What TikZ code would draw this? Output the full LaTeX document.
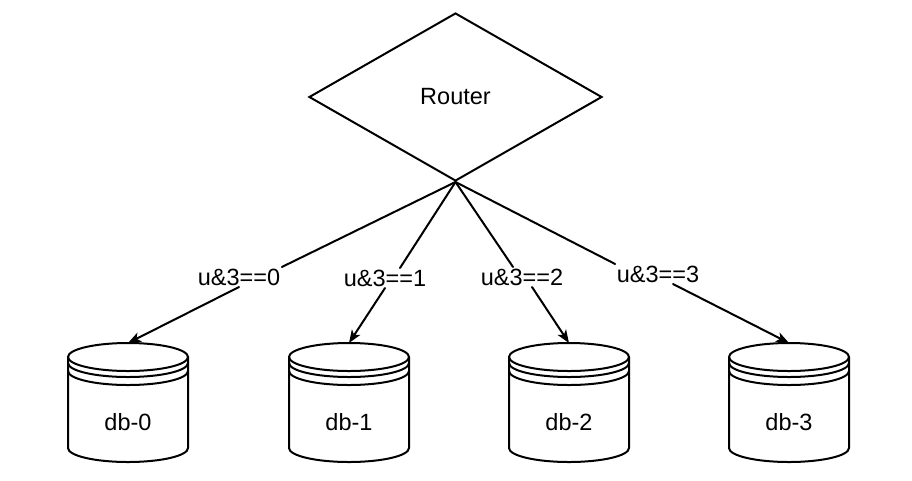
\documentclass[tikz,border=0pt]{standalone}
\usepackage{fontspec}
\setmainfont{Liberation Sans}
\usetikzlibrary{shapes.geometric,arrows.meta}
\tikzset{
  every picture/.style={x=1pt,y=-1pt},
  lw/.style={line width=2pt},
  router/.style={draw,lw,diamond,minimum width=293pt,minimum height=168pt,inner sep=0pt,font=\fontsize{23.5}{28}\selectfont},
  lbl/.style={inner sep=1.5pt,font=\fontsize{23.5}{28}\selectfont},
  dbbox/.style={minimum width=120pt,minimum height=119pt,inner sep=0pt,outer sep=0pt},
  dbtext/.style={inner sep=0pt,font=\fontsize{23.5}{28}\selectfont},
  edge/.style={lw,line cap=round},
  arr/.style={edge,-{Stealth[length=13pt,width=10pt,inset=3.5pt]}}
}
\begin{document}
\begin{tikzpicture}
\useasboundingbox (0,0) rectangle (912,480);
\node[router] (r) at (455.5,97) {Router};
\foreach \i/\cx in {0/128,1/349,2/569,3/789}{
  \node[dbbox] (db\i) at (\cx,402.5) {};
  \begin{scope}[shift={(db\i.center)},lw]
    \draw (-60,-45.5) -- (-60,45.5) arc[start angle=180,end angle=360,x radius=60pt,y radius=14pt] -- (60,-45.5);
    \draw (0,-45.5) ellipse [x radius=60pt,y radius=14pt];
    \draw (-60,-39.5) arc[start angle=180,end angle=360,x radius=60pt,y radius=14pt];
    \draw (-60,-31.5) arc[start angle=180,end angle=360,x radius=60pt,y radius=14pt];
  \end{scope}
  \node[dbtext] (t\i) at ([yshift=-19.5pt]db\i.center) {db-\i};
}
\node[lbl] (l0) at (239,277) {u\&3==0};
\node[lbl] (l1) at (385,278) {u\&3==1};
\node[lbl] (l2) at (522,277) {u\&3==2};
\node[lbl] (l3) at (658,274) {u\&3==3};
\draw[edge] (r.south) -- (l0.north east);
\draw[arr] (l0.south) -- (db0.north);
\draw[edge] (r.south) -- ([xshift=15pt]l1.north);
\draw[arr] (l1.south) -- (db1.north);
\draw[edge] (r.south) -- ([xshift=-9pt]l2.north);
\draw[arr] ([xshift=10pt]l2.south) -- (db2.north);
\draw[edge] (r.south) -- (l3.north west);
\draw[arr] ([xshift=15pt]l3.south) -- (db3.north);
\end{tikzpicture}
\end{document}
